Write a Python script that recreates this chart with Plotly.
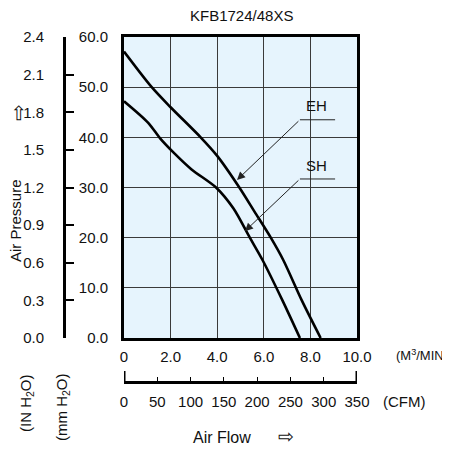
import plotly.graph_objects as go

# fan curves (flow in m3/min, pressure in mm H2O)
flow_eh = [0, 1.19, 2.0, 3.29, 4.0, 4.95, 5.6, 6.3, 6.84, 7.63, 8.44]
pres_eh = [57.1, 50.0, 46.0, 40.0, 36.3, 30.0, 25.2, 20.0, 15.5, 7.5, 0]

flow_sh = [0, 1.04, 1.55, 2.12, 2.9, 3.95, 4.7, 5.4, 5.95, 6.8, 7.55]
pres_sh = [47.2, 42.9, 39.8, 37.0, 33.6, 30.0, 25.8, 20.0, 15.5, 7.5, 0]

flow_ticks = [0, 2, 4, 6, 8, 10]
flow_labels = ["0", "2.0", "4.0", "6.0", "8.0", "10.0"]
cfm_ticks = [0, 50, 100, 150, 200, 250, 300, 350]
inh2o_ticks = [0.0, 0.3, 0.6, 0.9, 1.2, 1.5, 1.8, 2.1, 2.4]

# the page body adds an 8px margin, so the figure is drawn 8px smaller
OFF = 8
W, H = 450 - OFF, 450 - OFF
X0, X1 = 50, 357    # plotting area in screen pixels
Y0, Y1 = 37, 410
FONT = "Liberation Sans, Arial, sans-serif"


def px_x(px):
    return (px - X0) / (X1 - X0)


def px_y(py):
    return (Y1 - py) / (Y1 - Y0)


fig = go.Figure()
for fx, fy in [(flow_eh, pres_eh), (flow_sh, pres_sh)]:
    fig.add_trace(go.Scatter(
        x=fx, y=fy, mode="lines",
        line=dict(color="black", width=2.6, shape="spline", smoothing=0.8),
        showlegend=False, hoverinfo="skip",
    ))

# invisible traces so the extra axes get drawn
fig.add_trace(go.Scatter(x=[0, 350], y=[None, None], xaxis="x2", yaxis="y",
                         showlegend=False, hoverinfo="skip"))
fig.add_trace(go.Scatter(x=[None, None], y=[0, 2.4], xaxis="x", yaxis="y3",
                         showlegend=False, hoverinfo="skip"))

# leader lines for the curve labels
leaders = [("EH", 4.85, 31.5, 43.5, 46.3), ("SH", 5.19, 21.3, 31.7, 34.3)]
annotations = []
shapes = []
for name, tx, ty, ky, ly in leaders:
    annotations.append(dict(
        x=tx, y=ty, ax=7.55, ay=ky, axref="x", ayref="y", xref="x", yref="y",
        text="", showarrow=True, arrowhead=2, arrowsize=1.6, arrowwidth=1,
        arrowcolor="#222", standoff=0,
    ))
    annotations.append(dict(
        x=8.28, y=ly, xref="x", yref="y", text=name, showarrow=False,
        font=dict(size=15, color="#111"),
    ))
    shapes.append(dict(type="line", xref="x", yref="y", x0=7.55, x1=9.06,
                       y0=ky, y1=ky, line=dict(color="#222", width=1)))

# end ticks of the CFM scale
for xv in [0, 350]:
    shapes.append(dict(type="line", xref="x2", yref="paper", x0=xv, x1=xv,
                       y0=px_y(382), y1=px_y(371),
                       line=dict(color="black", width=3)))


def text(x, y, s, size=15, angle=0, anchor="center"):
    annotations.append(dict(
        x=px_x(x), y=px_y(y), xref="paper", yref="paper", text=s,
        showarrow=False, textangle=angle, xanchor=anchor, yanchor="middle",
        font=dict(size=size, color="#111"),
    ))


text(241, 16, "KFB1724/48XS", size=15)
text(394, 355, "(M<sup>3</sup>/MIN)", size=13, anchor="left")
text(381, 401, "(CFM)", anchor="left")
text(222, 437, "Air Flow", size=16)
text(286, 436, "⇨", size=19)
text(15, 221, "Air Pressure", size=15, angle=-90)
text(18, 113, "⇨", size=20, angle=-90)
text(26, 403, "(IN H<sub>2</sub>O)", angle=-90)
text(62, 407, "(mm H<sub>2</sub>O)", angle=-90)

fig.update_layout(
    width=W, height=H,
    margin=dict(l=X0 - OFF, r=W - (X1 - OFF), t=Y0 - OFF, b=H - (Y1 - OFF)),
    paper_bgcolor="white",
    plot_bgcolor="#E6F4FD",
    font=dict(family=FONT, size=15, color="#111"),
    annotations=annotations,
    shapes=shapes,
    xaxis=dict(
        domain=[px_x(124), 1], range=[0, 10], tickvals=flow_ticks,
        ticktext=flow_labels, showgrid=True, gridcolor="#3a3a3a", gridwidth=1,
        showline=True, linecolor="black", linewidth=3, mirror=True,
        zeroline=False, ticks="", ticklabelstandoff=3, anchor="y",
    ),
    yaxis=dict(
        domain=[px_y(338), 1], range=[0, 60], dtick=10, tickformat=".1f",
        showgrid=True, gridcolor="#3a3a3a", gridwidth=1,
        showline=True, linecolor="black", linewidth=3, mirror=True,
        zeroline=False, ticks="", ticklabelstandoff=10, anchor="x",
    ),
    xaxis2=dict(
        overlaying="x", anchor="free", position=px_y(382), side="bottom",
        range=[0, 350], tickvals=cfm_ticks, showgrid=False, zeroline=False,
        showline=True, linecolor="black", linewidth=3,
        ticks="inside", ticklen=4, tickwidth=1, tickcolor="black",
        ticklabelstandoff=5,
    ),
    yaxis3=dict(
        overlaying="y", anchor="free", position=px_x(64), side="left",
        range=[0, 2.4], tickvals=inh2o_ticks, tickformat=".1f",
        showgrid=False, zeroline=False,
        showline=True, linecolor="black", linewidth=3,
        ticks="inside", ticklen=8, tickwidth=1.5, tickcolor="black",
        ticklabelstandoff=16,
    ),
)

fig.write_html("out.html")
